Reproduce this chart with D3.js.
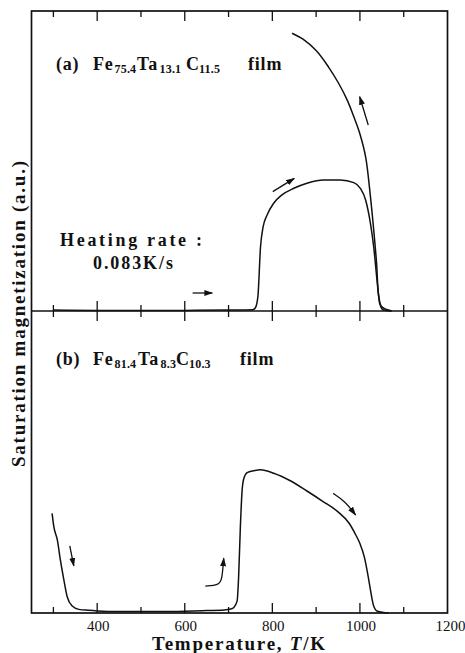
<!DOCTYPE html>
<html>
<head>
<meta charset="utf-8">
<script src="https://cdn.jsdelivr.net/npm/d3@7/dist/d3.min.js"></script>
<style>
  body { margin: 0; background: #fff; }
  text { font-family: "Liberation Serif", "Times New Roman", serif; fill: #111; }
</style>
</head>
<body>
<div id="chart"></div>
<script>
// temperature ticks
var majorTicks = [400, 600, 800, 1000];
var minorTicks = [300, 500, 700, 900, 1100];
var tickLabels = [400, 600, 800, 1000, 1200];

// (a) Fe75.4Ta13.1C11.5 : heating curve
var aHeatT = [300, 400, 500, 600, 700, 755, 761, 767, 773, 779, 788, 803, 822, 849, 879, 917, 955, 986, 1001, 1013, 1024, 1031.5, 1039, 1045, 1054, 1070];
var aHeatM = [0.3, 0.2, 0.2, 0.2, 0.3, 0.4, 1, 4.8, 21.4, 28.1, 32, 35.9, 38.7, 40.9, 42.6, 43.7, 43.7, 42.8, 40.9, 37, 29.2, 21.4, 10.3, 2.6, 0.3, 0];
// (a) cooling curve
var aCoolT = [845, 870, 900, 928, 951, 971, 986, 999, 1013, 1024, 1031.5, 1038, 1043, 1050, 1073];
var aCoolM = [92.6, 90.6, 86.8, 81.4, 76, 70.3, 64.8, 59.5, 51.4, 38.1, 27, 16, 5, 1.4, 0];

// (b) Fe81.4Ta8.3C10.3
var bT = [297, 301, 309, 316, 324, 331.5, 343, 358, 380, 400, 450, 500, 550, 600, 650, 690, 705, 712, 719.6, 723, 727, 731, 735, 742.5, 757.5, 773, 803, 841, 879, 915, 950, 975, 990, 1000, 1010, 1019, 1025, 1031, 1040, 1066];
var bM = [33, 28.6, 24.2, 17.5, 10.9, 5.4, 2.3, 1.2, 0.9, 0.7, 0.5, 0.5, 0.5, 0.6, 0.8, 1.0, 1.3, 1.8, 4, 12, 28.6, 40.7, 44.6, 46.5, 47.1, 47.4, 46.3, 43.8, 40.4, 37, 33.5, 29.8, 26, 23, 18.6, 12, 6.8, 2.5, 0.6, 0];

// arrows, as [T, M] points
var aArrows = [
  [[618, 6], [663, 6]],
  [[801, 39.8], [850, 44.2]],
  [[1019, 62], [999.5, 71.4]]
];
var bArrows = [
  [[337.4, 22.2], [346.6, 15.6]],
  [[647, 8.9], [677.6, 9.3], [685, 10.9], [689, 18.1]],
  [[939, 39.6], [966, 37], [990, 32.5]]
];

var width = 465, height = 653;
var plotLeft = 31.5, plotRight = 447.5, plotTop = 11, plotMid = 311, plotBottom = 613;

var svg = d3.select("#chart").append("svg")
  .attr("width", width).attr("height", height);

svg.append("defs").append("marker")
  .attr("id", "head")
  .attr("viewBox", "0 0 9 6")
  .attr("refX", 8).attr("refY", 3)
  .attr("markerWidth", 9).attr("markerHeight", 6)
  .attr("markerUnits", "userSpaceOnUse")
  .attr("orient", "auto")
  .append("path").attr("d", "M0,0 L9,3 L0,6 Z").attr("fill", "#111");

var x = d3.scaleLinear().domain([250, 1200]).range([plotLeft, plotRight]);
var yA = d3.scaleLinear().domain([0, 100]).range([plotMid, plotTop]);
var yB = d3.scaleLinear().domain([0, 100]).range([plotBottom, plotMid]);

// frame
svg.append("rect")
  .attr("x", plotLeft).attr("y", plotTop)
  .attr("width", plotRight - plotLeft).attr("height", plotBottom - plotTop)
  .attr("fill", "none").attr("stroke", "#111").attr("stroke-width", 1.7);
svg.append("line")
  .attr("x1", plotLeft).attr("x2", plotRight).attr("y1", plotMid).attr("y2", plotMid)
  .attr("stroke", "#111").attr("stroke-width", 1.7);

// ticks on the three horizontal lines
var tickData = majorTicks.map(function(t) { return {t: t, len: 10}; })
  .concat(minorTicks.map(function(t) { return {t: t, len: 6}; }));

[[plotTop, 1], [plotMid, -1], [plotMid, 1], [plotBottom, -1]].forEach(function(e) {
  svg.append("g").selectAll("line").data(tickData).join("line")
    .attr("x1", function(d) { return x(d.t); })
    .attr("x2", function(d) { return x(d.t); })
    .attr("y1", e[0])
    .attr("y2", function(d) { return e[0] + e[1] * d.len; })
    .attr("stroke", "#111").attr("stroke-width", 1.3);
});

svg.append("g").selectAll("text").data(tickLabels).join("text")
  .attr("x", function(d) { return x(d) + (d === 1200 ? 3 : 1); })
  .attr("y", 631)
  .attr("text-anchor", "middle")
  .attr("font-size", 15)
  .text(function(d) { return d; });

// curves
var makeLine = function(ys, curve) {
  return d3.line()
    .x(function(d) { return x(d[0]); })
    .y(function(d) { return ys(d[1]); })
    .curve(curve || d3.curveMonotoneX);
};
var zip = function(a, b) { return a.map(function(v, i) { return [v, b[i]]; }); };

svg.append("path").datum(zip(aHeatT, aHeatM))
  .attr("d", makeLine(yA)).attr("fill", "none").attr("stroke", "#111").attr("stroke-width", 1.5);
svg.append("path").datum(zip(aCoolT, aCoolM))
  .attr("d", makeLine(yA, d3.curveCatmullRom.alpha(0.5))).attr("fill", "none").attr("stroke", "#111").attr("stroke-width", 1.5);
svg.append("path").datum(zip(bT, bM))
  .attr("d", makeLine(yB)).attr("fill", "none").attr("stroke", "#111").attr("stroke-width", 1.5);

var arrowLine = function(ys) {
  return d3.line()
    .x(function(d) { return x(d[0]); })
    .y(function(d) { return ys(d[1]); })
    .curve(d3.curveBasis);
};
svg.append("g").selectAll("path").data(aArrows).join("path")
  .attr("d", arrowLine(yA)).attr("fill", "none").attr("stroke", "#111")
  .attr("stroke-width", 1.3).attr("marker-end", "url(#head)");
svg.append("g").selectAll("path").data(bArrows).join("path")
  .attr("d", arrowLine(yB)).attr("fill", "none").attr("stroke", "#111")
  .attr("stroke-width", 1.3).attr("marker-end", "url(#head)");

// panel labels: [text, x, baseline shift, size]
var labelA = [["(a)", 56, 0, 18], ["Fe", 93, 0, 18], ["75.4", 114.5, 3, 12], ["Ta", 137, 0, 18], ["13.1", 159.5, 3, 12], ["C", 186, 0, 18], ["11.5", 199, 3, 12], ["film", 248, 0, 18]];
var labelB = [["(b)", 56, 0, 18], ["Fe", 93, 0, 18], ["81.4", 114.5, 3, 12], ["Ta", 138, 0, 18], ["8.3", 160.5, 3, 12], ["C", 176, 0, 18], ["10.3", 189, 3, 12], ["film", 240, 0, 18]];

var drawLabel = function(parts, baseY) {
  svg.append("g").selectAll("text").data(parts).join("text")
    .attr("x", function(d) { return d[1]; })
    .attr("y", function(d) { return baseY + d[2]; })
    .attr("font-size", function(d) { return d[3]; })
    .attr("font-weight", "bold")
    .attr("letter-spacing", function(d) { return d[3] > 12 ? 0.8 : 0.2; })
    .text(function(d) { return d[0]; });
};
drawLabel(labelA, 70);
drawLabel(labelB, 365);

svg.append("text").attr("x", 60).attr("y", 246)
  .attr("font-size", 18).attr("font-weight", "bold")
  .attr("textLength", 142).attr("lengthAdjust", "spacing")
  .text("Heating rate :");
svg.append("text").attr("x", 93).attr("y", 268.5)
  .attr("font-size", 18).attr("font-weight", "bold")
  .attr("textLength", 80).attr("lengthAdjust", "spacing")
  .text("0.083K/s");

// axis titles
var xTitle = svg.append("text").attr("x", 152).attr("y", 650)
  .attr("font-size", 19).attr("font-weight", "bold")
  .attr("textLength", 173).attr("lengthAdjust", "spacing");
xTitle.append("tspan").text("Temperature,  ");
xTitle.append("tspan").attr("font-style", "italic").text("T");
xTitle.append("tspan").text("/K");

svg.append("text")
  .attr("transform", "translate(25,467) rotate(-90)")
  .attr("font-size", 19).attr("font-weight", "bold")
  .attr("textLength", 306).attr("lengthAdjust", "spacing")
  .text("Saturation  magnetization  (a.u.)");
</script>
</body>
</html>
